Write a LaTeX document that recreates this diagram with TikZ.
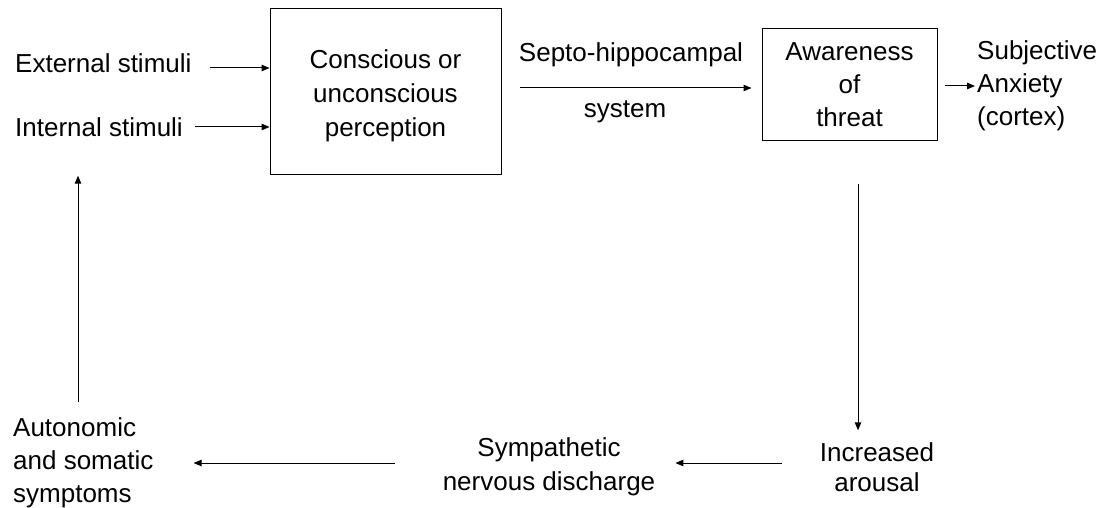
\documentclass[tikz,border=0pt]{standalone}
\usepackage{fontspec}
\setmainfont{Liberation Sans}
\usetikzlibrary{arrows.meta}

\begin{document}
\begin{tikzpicture}[x=1pt, y=-1pt,
            nodes={inner sep=0, align=center, font=\fontsize{26}{33}\selectfont},
            box/.style={draw, line width=1pt},
            arr/.style={-{Triangle[length=8pt,width=6.5pt]}, line width=1pt}]
        \useasboundingbox (0,0) rectangle (1113,508);

        \node (ext) [anchor=west] at (15,63) {External stimuli};
        \node (int) [anchor=west] at (15,127) {Internal stimuli};
        \node (perc) [box, minimum width=231pt, minimum height=165pt,
            font=\fontsize{26}{34}\selectfont] at (385.5,91.5)
            {\\[-6pt]Conscious or\\unconscious\\perception};
        \node (septo) at (631,55) {Septo-hippocampal};
        \node (sys) at (625,112) {system};
        \node (threat) [box, minimum width=175pt, minimum height=111pt] at (849.5,84.5)
            {Awareness\\of\\threat};
        \node (anx) [anchor=west, align=left] at (977,86) {Subjective\\Anxiety\\(cortex)};
        \node (arousal) [font=\fontsize{26}{30}\selectfont] at (877,467) {Increased\\arousal};
        \node (symp) [font=\fontsize{26}{34}\selectfont] at (549,467) {Sympathetic\\nervous discharge};
        \node (auto) [anchor=west, align=left] at (13,463) {Autonomic\\and somatic\\symptoms};

        \draw [arr, shorten <=18pt] (ext.east |- 0,68) -- (perc.west |- 0,68);
        \draw [arr, shorten <=12pt] (int.east) -- (perc.west |- int.east);
        \draw [arr, shorten <=18pt, shorten >=10pt] (perc.east |- 0,88) -- (threat.west |- 0,88);
        \draw [arr, shorten <=7pt, shorten >=2pt] (threat.east |- anx.west) -- (anx.west);
        \draw [arr, shorten <=43pt, shorten >=12pt] ([xshift=8.5pt]threat.south) -- ([xshift=8.5pt]threat.south |- arousal.north);
        \draw [arr, shorten <=38pt, shorten >=20pt] (arousal.west |- 0,463) -- (symp.east |- 0,463);
        \draw [arr, shorten <=48pt, shorten >=40pt] (symp.west |- 0,463) -- (auto.east |- 0,463);
        \draw [arr, shorten <=16pt, shorten >=39pt] ([xshift=65pt]auto.north west) -- ([xshift=65pt]auto.north west |- int.south);
    \end{tikzpicture}
\end{document}
